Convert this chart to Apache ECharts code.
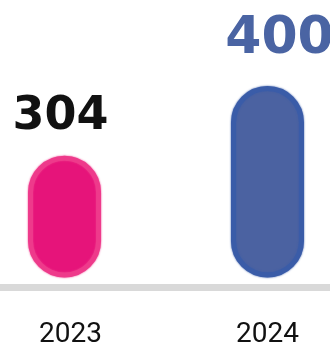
<!DOCTYPE html>
<html>
<head>
<meta charset="utf-8">
<script src="https://cdn.jsdelivr.net/npm/echarts@6/dist/echarts.min.js"></script>
<style>
  html, body { margin: 0; padding: 0; background: #ffffff; }
  #chart { width: 330px; height: 349px; }
</style>
</head>
<body>
<div id="chart"></div>
<script>
// Yearly totals
const years = ['2023', '2024'];
const values = [304, 400];

// Per-year styling
const fillColors = ['#e6147a', '#4b62a1'];
const rimColors = ['#ee3a8b', '#3a5ca8'];
const labelColors = ['#111111', '#4a64a3'];
const labelSizes = [46, 52];
const labelShifts = [[-4, 0], [12, 0]];
const labelGaps = [16, 21];

const chart = echarts.init(document.getElementById('chart'));

// Years sit at positions 0, 1 on a numeric x scale so the view can
// frame the first year near the left edge and let the second run wide.
const barData = values.map((v, i) => ({
  value: [i, v],
  itemStyle: {
    color: fillColors[i],
    borderColor: rimColors[i],
    borderWidth: 5,
    borderRadius: 36,
    shadowBlur: 2,
    shadowColor: rimColors[i]
  },
  label: {
    color: labelColors[i],
    fontSize: labelSizes[i],
    offset: labelShifts[i],
    distance: labelGaps[i]
  }
}));

chart.setOption({
  animation: false,
  backgroundColor: '#ffffff',
  grid: { left: 0, right: 0, top: 86, bottom: 72 },
  xAxis: {
    type: 'value',
    min: -0.318,
    max: 1.308,
    offset: 12,
    splitLine: { show: false },
    axisLine: { show: true, onZero: false, lineStyle: { color: '#d9d9d9', width: 7 } },
    axisTick: { show: false },
    axisLabel: {
      customValues: years.map((y, i) => i),
      formatter: v => {
        const i = Math.round(v);
        return i === 0 ? '{first|' + years[i] + '}' : years[i];
      },
      rich: {
        first: {
          fontFamily: 'Roboto',
          fontSize: 28,
          color: '#111111',
          padding: [0, 0, 0, 12]
        }
      },
      margin: 34,
      fontFamily: 'Roboto',
      fontSize: 28,
      color: '#111111'
    }
  },
  yAxis: {
    type: 'value',
    min: 140,
    max: 400,
    show: false,
    splitLine: { show: false }
  },
  series: [{
    type: 'bar',
    barWidth: 73,
    data: barData,
    label: {
      show: true,
      position: 'top',
      fontFamily: 'DejaVu Sans',
      fontWeight: 'bold',
      formatter: p => String(p.value[1])
    }
  }]
});
</script>
</body>
</html>
